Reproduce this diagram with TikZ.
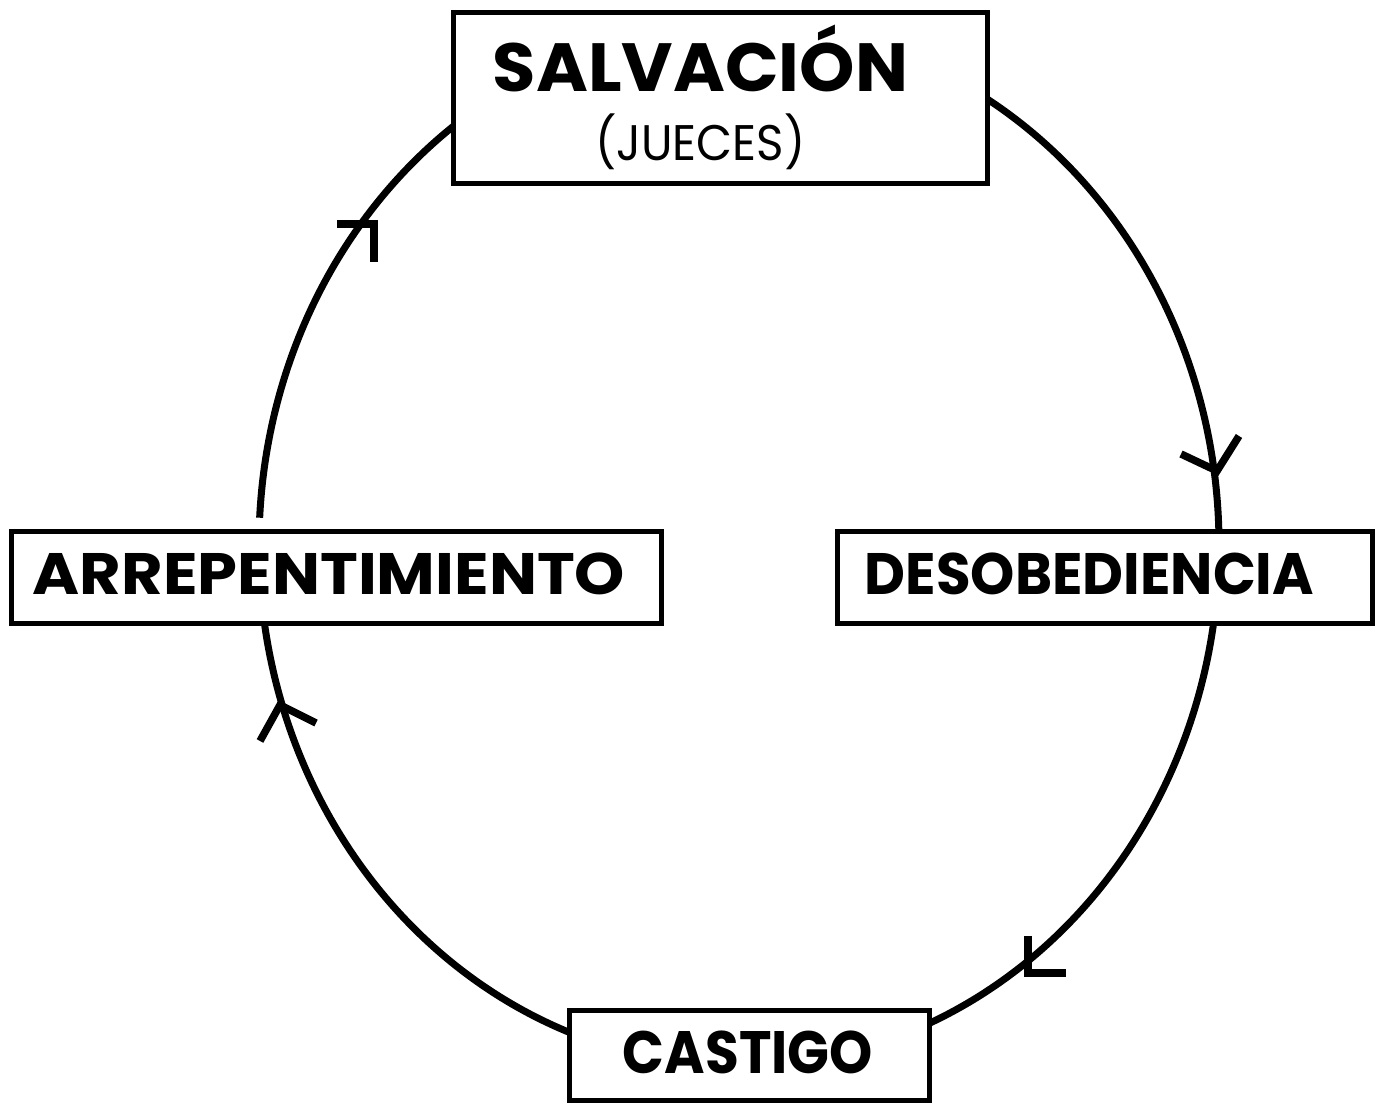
\documentclass[tikz,border=0pt]{standalone}
\usepackage{fontspec}
\setmainfont{Poppins}
\usetikzlibrary{backgrounds}
\begin{document}
\begin{tikzpicture}[x=1pt,y=1pt,
  box/.style={draw, line width=5.5pt, fill=white, inner sep=0pt},
  lbl/.style={inner sep=0pt, anchor=center},
  cyc/.style={line width=7pt},
  tip/.style={line width=7.5pt, miter limit=10}]
\useasboundingbox (0,0) rectangle (1380,1105);
% boxes
\node[box, minimum width=534pt, minimum height=171pt] (salv) at (720.5,1007) {};
\node[box, minimum width=650pt, minimum height=92pt] (arrep) at (336.5,527.5) {};
\node[box, minimum width=535pt, minimum height=92pt] (desob) at (1105,527.5) {};
\node[box, minimum width=360pt, minimum height=90pt] (cast) at (749.5,49.5) {};
% labels
\node[lbl] (salvt) at (700.5,1046.5) {\resizebox*{415pt}{67pt}{\textbf{SALVACIÓN}}};
\node[lbl] (juec) at (700.5,963) {\resizebox*{210pt}{56pt}{(JUECES)}};
\node[lbl] (arrept) at (329,531.5) {\resizebox*{592pt}{42pt}{\textbf{ARREPENTIMIENTO}}};
\node[lbl] (desobt) at (1089.5,531.5) {\resizebox*{449pt}{42pt}{\textbf{DESOBEDIENCIA}}};
\node[lbl] (castt) at (748,53) {\resizebox*{250pt}{43pt}{\textbf{CASTIGO}}};
% cycle
\coordinate (c) at (739,560);
\begin{scope}[on background layer]
\draw[cyc] ([shift={(62:480 and 521)}]c) arc[start angle=62, end angle=0, x radius=480, y radius=521];
\draw[cyc] ([shift={(-3:480 and 521)}]c) arc[start angle=-3, end angle=-70, x radius=480, y radius=521];
\draw[cyc] ([shift={(252:480 and 521)}]c) arc[start angle=252, end angle=183, x radius=480, y radius=521];
\draw[cyc] ([shift={(177:480 and 521)}]c) arc[start angle=177, end angle=123, x radius=480, y radius=521];
\end{scope}
% arrow tips
\draw[tip] (337,881) -- (374,881) -- (374,843);
\draw[tip] (1181,651) -- (1217,634) -- (1239,669);
\draw[tip] (1028,169) -- (1028,132) -- (1066,132);
\draw[tip] (260,364) -- (280,400) -- (316,382);
\end{tikzpicture}
\end{document}
